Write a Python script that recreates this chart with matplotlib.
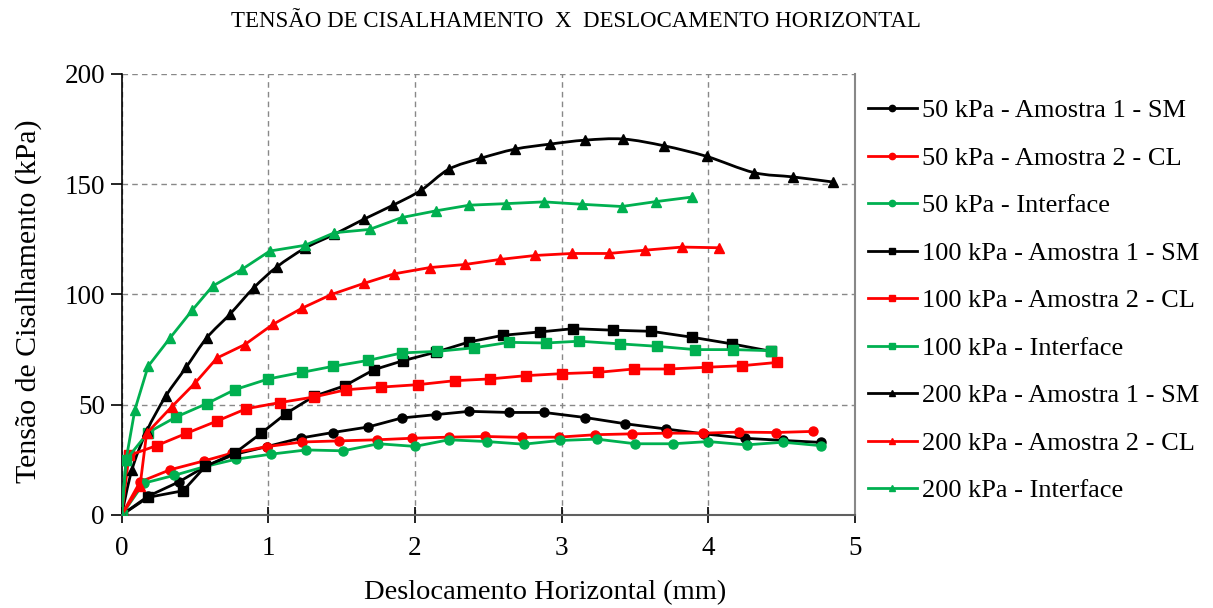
import matplotlib
matplotlib.use("Agg")
import matplotlib.pyplot as plt
from matplotlib.path import Path
from matplotlib.patches import PathPatch
from matplotlib.lines import Line2D

plt.rcParams['font.family'] = ['Liberation Serif', 'DejaVu Serif']

# Ensaios de cisalhamento direto - deslocamento horizontal (mm) x tensão (kPa)
x_50_sm = [0, 0.18, 0.39, 0.57, 0.77, 0.99, 1.22, 1.44, 1.68, 1.91, 2.14, 2.37, 2.64,
           2.88, 3.16, 3.43, 3.71, 3.97, 4.25, 4.51, 4.77]
y_50_sm = [0, 8.5, 15, 22, 27.5, 31, 34.9, 37.4, 39.9, 44, 45.5, 47, 46.5,
           46.5, 44.2, 41.4, 39, 36.8, 34.8, 33.8, 32.9]

x_50_cl = [0, 0.125, 0.33, 0.56, 0.75, 0.99, 1.23, 1.48, 1.74, 1.98, 2.23, 2.48, 2.73,
           2.98, 3.23, 3.48, 3.72, 3.96, 4.21, 4.46, 4.71]
y_50_cl = [0, 15, 20.5, 24.5, 28, 31, 33.1, 33.6, 34.1, 34.8, 35.3, 35.6, 35.2,
           35.3, 36.4, 36.8, 37.1, 37.1, 37.6, 37.4, 37.9]

x_50_int = [0, 0.15, 0.36, 0.57, 0.78, 1.02, 1.26, 1.51, 1.75, 2.0, 2.23, 2.49, 2.74,
            2.99, 3.24, 3.5, 3.76, 4.0, 4.26, 4.51, 4.77]
y_50_int = [0, 14.4, 18, 22, 25.3, 27.6, 29.5, 29.1, 32.3, 31.1, 34.1, 33.3, 32.1,
            33.8, 34.4, 32.3, 32.3, 33.3, 31.8, 33, 31.4]

x_100_sm = [0, 0.18, 0.42, 0.57, 0.77, 0.95, 1.12, 1.31, 1.52, 1.72, 1.92, 2.14, 2.37,
            2.6, 2.85, 3.08, 3.35, 3.61, 3.89, 4.16, 4.43]
y_100_sm = [0, 8, 11, 22, 28, 37, 46, 53.8, 58.6, 65.9, 70, 73.8, 78.5,
            81.5, 83, 84.5, 83.8, 83.3, 80.6, 77.6, 74.2]

x_100_cl = [0, 0.05, 0.24, 0.44, 0.65, 0.85, 1.08, 1.31, 1.53, 1.77, 2.02, 2.27, 2.51,
            2.76, 3.0, 3.25, 3.49, 3.73, 3.99, 4.23, 4.47]
y_100_cl = [0, 27, 31.5, 37, 42.6, 48.2, 51, 53.5, 56.8, 58, 59.1, 60.9, 61.7,
            63.2, 64.1, 64.7, 66.2, 66.2, 67, 67.7, 69.2]

x_100_int = [0, 0.03, 0.18, 0.37, 0.58, 0.77, 1.0, 1.23, 1.44, 1.68, 1.91, 2.15, 2.4,
             2.64, 2.89, 3.12, 3.4, 3.65, 3.91, 4.17, 4.43]
y_100_int = [0, 25, 37.4, 44.4, 50.5, 56.8, 61.7, 64.7, 67.4, 70.1, 73.5, 74.2, 75.8,
             78.3, 78, 78.8, 77.6, 76.5, 75, 75, 74.5]

x_200_sm = [0, 0.07, 0.17, 0.3, 0.44, 0.58, 0.74, 0.9, 1.06, 1.25, 1.45, 1.65, 1.85,
            2.04, 2.23, 2.45, 2.68, 2.92, 3.16, 3.42, 3.7, 3.99, 4.31, 4.58, 4.85]
y_200_sm = [0, 20.5, 37.9, 53.8, 67, 80.3, 91.2, 103, 112.6, 121, 127.3, 134.1, 140.5,
            147.2, 156.8, 161.8, 165.9, 168.2, 170, 170.5, 167.4, 162.6, 155.3, 153.3, 151]

x_200_cl = [0, 0.125, 0.17, 0.34, 0.5, 0.65, 0.84, 1.03, 1.23, 1.43, 1.65, 1.86, 2.1,
            2.34, 2.58, 2.82, 3.07, 3.32, 3.57, 3.82, 4.07]
y_200_cl = [0, 13, 37, 49, 59.8, 71.2, 77.3, 86.4, 93.8, 100, 105, 109.4, 112.2,
            113.6, 115.9, 117.7, 118.6, 118.6, 120.1, 121.5, 121.2]

x_200_int = [0, 0.03, 0.09, 0.18, 0.33, 0.48, 0.62, 0.82, 1.01, 1.25, 1.45, 1.69, 1.91,
             2.14, 2.37, 2.62, 2.88, 3.14, 3.41, 3.64, 3.89]
y_200_int = [0, 25, 47.7, 67.4, 80.3, 92.8, 103.8, 111.4, 119.7, 122.3, 128, 129.5, 134.9,
             137.9, 140.5, 141.2, 142, 140.9, 139.9, 142.1, 144.2]

preto = '#000000'
vermelho = '#FF0000'
verde = '#00B050'

# (x, y, cor, marcador, rótulo, linha suavizada)
series = [
    (x_50_sm, y_50_sm, preto, 'o', '50 kPa - Amostra 1 - SM', False),
    (x_50_cl, y_50_cl, vermelho, 'o', '50 kPa - Amostra 2 - CL', False),
    (x_50_int, y_50_int, verde, 'o', '50 kPa - Interface', False),
    (x_100_sm, y_100_sm, preto, 's', '100 kPa - Amostra 1 - SM', False),
    (x_100_cl, y_100_cl, vermelho, 's', '100 kPa - Amostra 2 - CL', False),
    (x_100_int, y_100_int, verde, 's', '100 kPa - Interface', False),
    (x_200_sm, y_200_sm, preto, '^', '200 kPa - Amostra 1 - SM', True),
    (x_200_cl, y_200_cl, vermelho, '^', '200 kPa - Amostra 2 - CL', False),
    (x_200_int, y_200_int, verde, '^', '200 kPa - Interface', False),
]


def curva_suave(xs, ys):
    # caminho de Bezier cúbico passando pelos pontos (estilo "linha suavizada")
    pts = list(zip(xs, ys))
    verts = [pts[0]]
    codes = [Path.MOVETO]
    n = len(pts)
    for i in range(n - 1):
        p0 = pts[max(i - 1, 0)]
        p1 = pts[i]
        p2 = pts[i + 1]
        p3 = pts[min(i + 2, n - 1)]
        c1 = (p1[0] + (p2[0] - p0[0]) / 6, p1[1] + (p2[1] - p0[1]) / 6)
        c2 = (p2[0] - (p3[0] - p1[0]) / 6, p2[1] - (p3[1] - p1[1]) / 6)
        verts += [c1, c2, p2]
        codes += [Path.CURVE4] * 3
    return Path(verts, codes)


fig = plt.figure(figsize=(12.13, 6.08), dpi=100)
ax = fig.add_axes([0.1003, 0.153, 0.6046, 0.7253])

handles = []
for xs, ys, cor, mk, nome, suave in series:
    ms = 6.5 if mk == 'o' else 7
    if suave:
        ax.add_patch(PathPatch(curva_suave(xs, ys), facecolor='none', edgecolor=cor,
                               linewidth=2.0, zorder=2))
        ax.plot(xs, ys, linestyle='none', color=cor, marker=mk, markersize=ms, zorder=3)
        h = Line2D([], [], color=cor, marker=mk, markersize=ms, linewidth=2.0, label=nome)
    else:
        h, = ax.plot(xs, ys, color=cor, marker=mk, markersize=ms, linewidth=2.0,
                     label=nome, zorder=3)
    handles.append(h)

ax.set_xlim(0, 5)
ax.set_ylim(0, 200)
ax.set_xticks([0, 1, 2, 3, 4, 5])
ax.set_yticks([0, 50, 100, 150, 200])
ax.grid(True, color='#888888', linestyle=(0, (4, 3)), linewidth=1.0)
ax.set_axisbelow(True)

ax.spines['top'].set_visible(False)
ax.spines['left'].set_color('black')
ax.spines['left'].set_linewidth(1.2)
ax.spines['bottom'].set_color('#606060')
ax.spines['bottom'].set_linewidth(1.5)
ax.spines['right'].set_color('#888888')
ax.spines['right'].set_linewidth(1.5)

ax.tick_params(axis='y', direction='out', length=8, width=1.2, labelsize=19.5, pad=4)
ax.tick_params(axis='x', direction='inout', length=12, width=1.2, labelsize=19.5, pad=9)

ax.set_xlabel('Deslocamento Horizontal (mm)', fontsize=20.5)
ax.set_ylabel('Tensão de Cisalhamento (kPa)', fontsize=21.5)
ax.xaxis.set_label_coords(0.577, -0.148)
ax.yaxis.set_label_coords(-0.1087, 0.485)

fig.text(0.475, 0.965, 'TENSÃO DE CISALHAMENTO  X  DESLOCAMENTO HORIZONTAL',
         ha='center', va='center', fontsize=16.5)

fig.legend(handles=handles, loc='upper left', bbox_to_anchor=(0.7155, 0.8372),
           frameon=False, fontsize=19, handlelength=1.86, handletextpad=0.19,
           labelspacing=0.91, markerscale=0.7, borderaxespad=0, borderpad=0)

fig.savefig('out.png', dpi=100)
